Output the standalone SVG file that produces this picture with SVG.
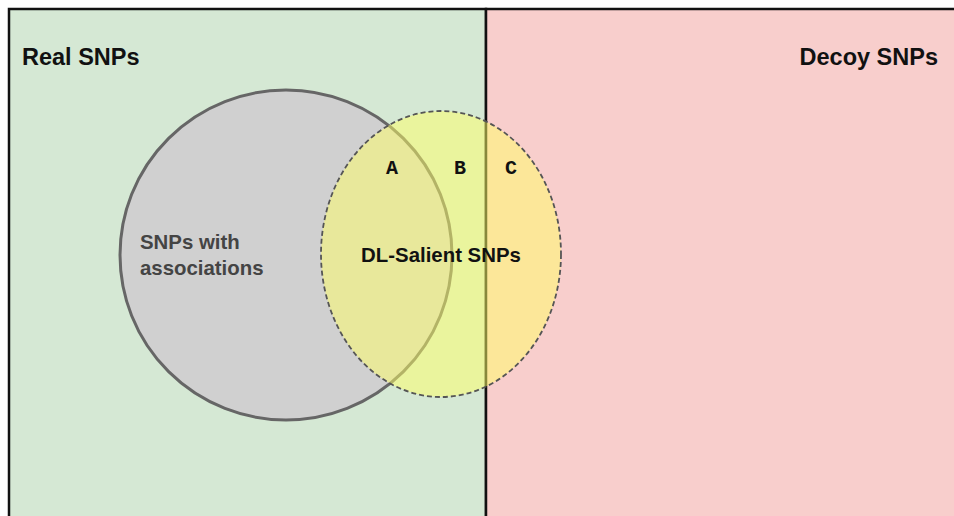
<svg xmlns="http://www.w3.org/2000/svg" width="954" height="516" viewBox="0 0 954 516">
<style>
.t{font-family:"Liberation Sans",Arial,sans-serif;font-weight:bold;}
.h{font-size:23.5px;fill:#111;}
.m{font-size:20.4px;}
.l{font-family:"Liberation Mono","Courier New",monospace;font-weight:bold;font-size:20px;fill:#111;}
</style>
<rect width="954" height="516" fill="#ffffff"/>
<g id="real">
<rect x="9" y="9" width="477" height="520" fill="#d5e8d4" stroke="#111" stroke-width="2.5"/>
<text class="t h" x="22" y="65">Real SNPs</text>
</g>
<g id="decoy">
<rect x="486" y="9" width="480" height="520" fill="#f8cecc" stroke="#111" stroke-width="2.5"/>
<text class="t h" x="938" y="65" text-anchor="end">Decoy SNPs</text>
</g>
<g id="assoc">
<ellipse cx="286" cy="255" rx="166" ry="165" fill="#d0d0d0" stroke="#666" stroke-width="3"/>
<text class="t m" x="140" y="249" fill="#444">SNPs with</text>
<text class="t m" x="140" y="275" fill="#444">associations</text>
</g>
<g id="salient">
<ellipse cx="441" cy="254" rx="120" ry="143" fill="#ffff66" fill-opacity="0.5" stroke="#555" stroke-width="1.8" stroke-dasharray="5,3"/>
<text class="t m" x="441" y="262" fill="#111" text-anchor="middle">DL-Salient SNPs</text>
<text class="l" x="392" y="174" text-anchor="middle">A</text>
<text class="l" x="460" y="174" text-anchor="middle">B</text>
<text class="l" x="511" y="174" text-anchor="middle">C</text>
</g>
</svg>
